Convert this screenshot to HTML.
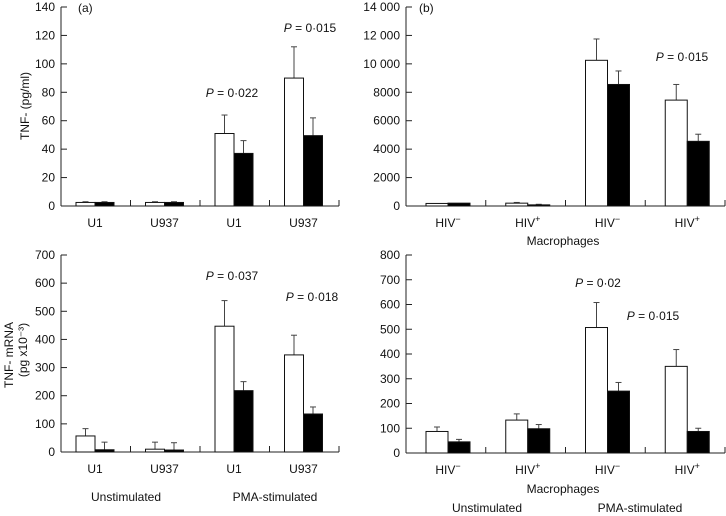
<!DOCTYPE html>
<html><head><meta charset="utf-8"><style>
html,body{margin:0;padding:0;background:#fff;}
svg{display:block;font-family:"Liberation Sans",Arial,sans-serif;}
text{fill:#111;}
</style></head><body>
<svg id="chart" width="726" height="516" viewBox="0 0 726 516"></svg>
<script>
// Panel (a) top: TNF protein, cell lines
const catsA = ["U1","U937","U1","U937"];
const aWhite = [2.5, 2.5, 51, 90];
const aWhiteErr = [3, 3, 64, 112];
const aBlack = [2.5, 2.5, 37, 49.5];
const aBlackErr = [3, 3, 46, 62];
const aTicks = [0,20,40,60,80,100,120,140];
const aTickLabels = ["0","20","40","60","80","100","120","140"];
// Panel (b) top: TNF protein, macrophages
const catsB = ["HIV−","HIV+","HIV−","HIV+"];
const bWhite = [180, 200, 10250, 7450];
const bWhiteErr = [180, 250, 11750, 8550];
const bBlack = [200, 80, 8550, 4550];
const bBlackErr = [200, 120, 9500, 5050];
const bTicks = [0,2000,4000,6000,8000,10000,12000,14000];
const bTickLabels = ["0","2000","4000","6000","8000","10 000","12 000","14 000"];
// Bottom-left: mRNA, cell lines
const cWhite = [57, 10, 447, 345];
const cWhiteErr = [83, 35, 538, 415];
const cBlack = [8, 7, 218, 135];
const cBlackErr = [35, 33, 250, 160];
const cTicks = [0,100,200,300,400,500,600,700];
const cTickLabels = ["0","100","200","300","400","500","600","700"];
// Bottom-right: mRNA, macrophages
const dWhite = [87, 133, 507, 350];
const dWhiteErr = [105, 158, 608, 418];
const dBlack = [45, 98, 250, 87];
const dBlackErr = [55, 115, 285, 100];
const dTicks = [0,100,200,300,400,500,600,700,800];
const dTickLabels = ["0","100","200","300","400","500","600","700","800"];

const svg = document.getElementById('chart');
const NS = "http://www.w3.org/2000/svg";
function mk(tag, attrs, parent){
  const e = document.createElementNS(NS, tag);
  for (const k in attrs) e.setAttribute(k, attrs[k]);
  (parent||svg).appendChild(e);
  return e;
}
function txt(x,y,s,anchor,size,parent){
  const t = mk('text',{x:x,y:y,'text-anchor':anchor||'middle','font-size':size||12},parent);
  t.textContent = s;
  return t;
}

function panel(name, cfg){
  const g = mk('g',{});
  
  
  const yScale = v => cfg.y0 - (v / cfg.ymax) * (cfg.y0 - cfg.yTop);
  const gw = (cfg.x1 - cfg.x0) / 4;
  const xBar = (i, k) => cfg.x0 + i*gw + cfg.off + k*cfg.bw;
  // axes
  const ax = mk('line',{x1:cfg.x0,y1:cfg.yTop,x2:cfg.x0,y2:cfg.y0,stroke:'#222','stroke-width':1},g);
  
  
  const bx = mk('line',{x1:cfg.x0,y1:cfg.y0,x2:cfg.x1,y2:cfg.y0,stroke:'#222','stroke-width':1},g);
  
  
  for (let i=1;i<=4;i++){
    const x = cfg.x0 + i*gw;
    mk('line',{x1:x,y1:cfg.y0,x2:x,y2:cfg.y0-6,stroke:'#222'},g);
  }
  cfg.ticks.forEach((v,i)=>{
    const y = yScale(v);
    mk('line',{x1:cfg.x0,y1:y,x2:cfg.x0+6,y2:y,stroke:'#222'},g);
    const t = txt(cfg.x0-6, y+4, cfg.tickLabels[i], 'end', 12, g);
    
    
  });
  const series = [[cfg.white,cfg.whiteErr,'#fff'],[cfg.black,cfg.blackErr,'#000']];
  series.forEach((s,k)=>{
    s[0].forEach((v,i)=>{
      const x = xBar(i,k);
      const yv = yScale(v), ye = yScale(s[1][i]);
      const cx = x + cfg.bw/2;
      if (ye < yv - 0.5){
        mk('line',{x1:cx,y1:yv,x2:cx,y2:ye,stroke:'#444'},g);
        mk('line',{x1:cx-3,y1:ye,x2:cx+3,y2:ye,stroke:'#444'},g);
      }
      const r = mk('rect',{x:x,y:yv,width:cfg.bw,height:Math.max(cfg.y0-yv,1),fill:s[2],stroke:'#111','stroke-width':1},g);
      
      
    });
  });
  cfg.cats.forEach((c,i)=>{
    const cx = xBar(i,1);
    const t = mk('text',{x:cx,y:cfg.y0+21,'text-anchor':'middle','font-size':12},g);
    
    
    if (c.startsWith('HIV')){
      t.appendChild(document.createTextNode('HIV'));
      const sp = document.createElementNS(NS,'tspan');
      sp.setAttribute('font-size','9'); sp.setAttribute('dy','-5');
      sp.textContent = c.slice(3);
      t.appendChild(sp);
    } else t.textContent = c;
  });
  return g;
}

panel('panel-a-protein', {x0:61,x1:339,y0:206,yTop:7,ymax:140,off:15,bw:19,cats:catsA,
  white:aWhite,whiteErr:aWhiteErr,black:aBlack,blackErr:aBlackErr,ticks:aTicks,tickLabels:aTickLabels});
panel('panel-b-protein', {x0:406,x1:725,y0:206,yTop:7,ymax:14000,off:20,bw:22,cats:catsB,
  white:bWhite,whiteErr:bWhiteErr,black:bBlack,blackErr:bBlackErr,ticks:bTicks,tickLabels:bTickLabels});
panel('panel-a-mrna', {x0:61,x1:339,y0:452,yTop:255,ymax:700,off:15,bw:19,cats:catsA,
  white:cWhite,whiteErr:cWhiteErr,black:cBlack,blackErr:cBlackErr,ticks:cTicks,tickLabels:cTickLabels});
panel('panel-b-mrna', {x0:406,x1:725,y0:453,yTop:255,ymax:800,off:20,bw:22,cats:catsB,
  white:dWhite,whiteErr:dWhiteErr,black:dBlack,blackErr:dBlackErr,ticks:dTicks,tickLabels:dTickLabels});

function label(x,y,s,name,anchor){
  const t = txt(x,y,s,anchor||'middle',12);
  
  
  return t;
}
function pLabel(x,y,val,name){
  const t = mk('text',{x:x,y:y,'text-anchor':'middle','font-size':12});
  
  
  const i = document.createElementNS(NS,'tspan');
  i.setAttribute('font-style','italic'); i.textContent='P';
  t.appendChild(i);
  t.appendChild(document.createTextNode(' = '+val));
}
label(78,12,'(a)','panel-label-a','start');
label(419,12,'(b)','panel-label-b','start');
pLabel(232,97,'0·022','p-value-a-u1');
pLabel(310,32,'0·015','p-value-a-u937');
pLabel(682,61,'0·015','p-value-b-hivpos');
pLabel(232,280,'0·037','p-value-mrna-u1');
pLabel(312,301,'0·018','p-value-mrna-u937');
pLabel(598,287,'0·02','p-value-mrna-hivneg');
pLabel(653,320,'0·015','p-value-mrna-hivpos');
label(563,245,'Macrophages','x-group-label-macrophages-top');
label(563,493,'Macrophages','x-group-label-macrophages-bottom');
label(126,501,'Unstimulated','x-group-unstimulated-left');
label(275,501,'PMA-stimulated','x-group-pma-left');
label(487,512,'Unstimulated','x-group-unstimulated-right');
label(640,512,'PMA-stimulated','x-group-pma-right');
let yl = mk('text',{x:0,y:0,'text-anchor':'middle','font-size':12,transform:'translate(29,106) rotate(-90)'});
yl.textContent = 'TNF-    (pg/ml)';


yl = mk('text',{x:0,y:0,'text-anchor':'middle','font-size':12,transform:'translate(13,355) rotate(-90)'});
yl.textContent = 'TNF-    mRNA';


yl = mk('text',{x:0,y:0,'text-anchor':'middle','font-size':12,transform:'translate(27,350) rotate(-90)'});
yl.textContent = '(pg x10⁻³)';


</script>
</body></html>
